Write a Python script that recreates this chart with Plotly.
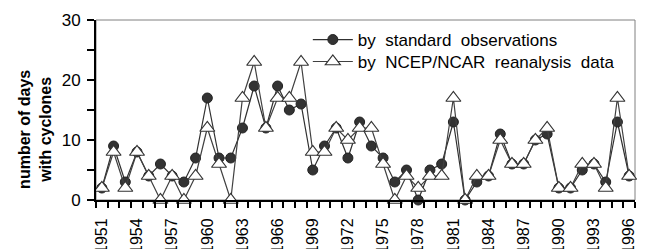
import plotly.graph_objects as go

years = list(range(1951, 1997))
standard_obs = [2, 9, 3, 8, 4, 6, 4, 3, 7, 17, 7, 7, 12, 19, 12, 19, 15, 16, 5, 9,
                12, 7, 13, 9, 7, 3, 5, 0, 5, 6, 13, 0, 3, 4, 11, 6, 6, 10, 11, 2,
                2, 5, 6, 3, 13, 4]
ncep_ncar = [2, 8, 2, 8, 4, 0, 4, 0, 4, 12, 6, 0, 17, 23, 12, 17, 17, 23, 8, 8,
             12, 10, 12, 12, 6, 0, 4, 2, 4, 4, 17, 0, 4, 4, 10, 6, 6, 10, 12, 2,
             2, 6, 6, 2, 17, 4]
tick_years = years[::3]
y_ticks = [0, 10, 20, 30]

SP = "\u00a0\u00a0"
name_std = SP.join(["by", "standard", "observations"])
name_ncep = SP.join(["by", "NCEP/NCAR", "reanalysis", "data"])

fig = go.Figure()
fig.add_trace(go.Scatter(
    x=years, y=standard_obs, mode="lines+markers", name=name_std,
    line=dict(color="#303030", width=1.2),
    marker=dict(symbol="circle", size=10, color="#333333",
                line=dict(color="#222222", width=1)),
    cliponaxis=False, legend="legend",
))
fig.add_trace(go.Scatter(
    x=years, y=ncep_ncar, mode="lines+markers", name=name_ncep,
    line=dict(color="#404040", width=1.2),
    marker=dict(symbol="triangle-up", size=13, color="white",
                line=dict(color="#333333", width=1.2)),
    cliponaxis=False, legend="legend2",
))

fig.add_shape(type="rect", xref="paper", yref="paper", x0=0, x1=1, y0=0, y1=1,
              line=dict(color="#808080", width=1), layer="below")

fig.add_annotation(
    text="<b>number of days<br>with cyclones</b>", textangle=-90,
    xref="paper", yref="paper", x=-0.113, y=0.39,
    xanchor="center", yanchor="middle", showarrow=False,
    font=dict(family="Liberation Sans, Arial", size=16, color="black"),
)

legend_common = dict(xanchor="left", yanchor="middle", bgcolor="rgba(0,0,0,0)",
                     font=dict(size=17), itemwidth=40)

fig.update_layout(
    width=641, height=241,
    margin=dict(l=88, r=14, t=12, b=49, autoexpand=False),
    paper_bgcolor="white", plot_bgcolor="white",
    font=dict(family="Liberation Sans, Arial", size=16, color="black"),
    showlegend=True,
    legend=dict(x=0.393, y=0.889, **legend_common),
    legend2=dict(x=0.393, y=0.767, **legend_common),
    xaxis=dict(
        range=[years[0] - 0.5, years[-1] + 0.5], automargin=False,
        tickmode="array", tickvals=tick_years, ticktext=[str(y) for y in tick_years],
        tickangle=-90, ticks="", ticklen=0, showgrid=False, zeroline=False,
        showline=True, linecolor="black", linewidth=2,
        tickfont=dict(size=16), ticklabelstandoff=10,
        minor=dict(tickmode="linear", tick0=years[0] - 0.5, dtick=1,
                   ticks="outside", ticklen=6, tickwidth=1.5, tickcolor="black",
                   showgrid=False),
    ),
    yaxis=dict(
        range=[0, 30], tickmode="array", tickvals=y_ticks, automargin=False,
        ticks="outside", ticklen=7, tickwidth=1.5, tickcolor="black",
        showgrid=False, zeroline=False,
        showline=True, linecolor="black", linewidth=2,
        tickfont=dict(size=17), ticklabelstandoff=3,
        minor=dict(tickmode="linear", tick0=0, dtick=5,
                   ticks="outside", ticklen=7, tickwidth=1.5, tickcolor="black",
                   showgrid=False),
    ),
)

fig.write_html("out.html")
